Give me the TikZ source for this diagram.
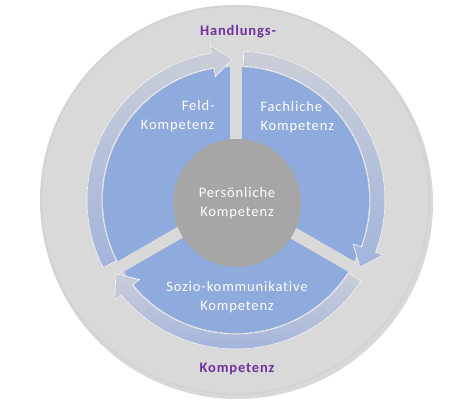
\documentclass[tikz,border=0pt]{standalone}
\usepackage{fontspec}
\setmainfont{Carlito}[LetterSpace=6, Ligatures={NoCommon}]
\definecolor{ringgray}{HTML}{D9D9D9}
\definecolor{sectorblue}{HTML}{8FAADC}
\definecolor{coregray}{HTML}{A6A6A6}
\definecolor{arrowblue}{HTML}{A3B4DC}
\definecolor{arrowgray}{HTML}{CACED8}
\definecolor{titlepurple}{HTML}{7030A0}
\tikzset{
  labeltext/.style={text=white, font=\fontsize{14.5}{18.5}\selectfont},
  titletext/.style={text=titlepurple, font=\bfseries\fontsize{14.5}{18}\selectfont},
}
\begin{document}
\begin{tikzpicture}[x=1pt,y=1pt]
\useasboundingbox (-236,-200) rectangle (239,200);
% outer ring
\fill[gray!60, opacity=0.5] (1,-3) circle[radius=196];
\fill[ringgray] (-1,0) circle[radius=195];
\draw[gray!35, line width=1.5] (-1,0) circle[radius=194];
% blue sectors and gaps
\fill[sectorblue] (0,0) circle[radius=133];
\foreach \g in {90,-30,210}{
  \draw[ringgray, line width=12] (0,0) -- (\g:135);
}
% circular arrows
\foreach \a/\b in {207/91.5, 87/-28.5, 327/211.5}{
  \filldraw[top color=arrowgray, bottom color=arrowblue, draw=white, line width=0.6]
    (\a:149) arc[start angle=\a, end angle=\b+8, radius=149]
    -- (\b+8:157) -- (\b:141) -- (\b+8:125) -- (\b+8:134)
    arc[start angle=\b+8, end angle=\a, radius=134] -- cycle;
}
% core
\node[circle, fill=coregray, minimum size=128, inner sep=0, labeltext, align=center]
  (persoenlich) at (1,-3) {Persönliche\\Kompetenz};
% sector labels
\node[labeltext, anchor=east, align=right] (feld) at (-18,84) {Feld-\\Kompetenz};
\node[labeltext, anchor=west, align=left] (fachlich) at (21,83) {Fachliche\\Kompetenz};
\node[labeltext, align=center] (sozio) at (1,-97) {Sozio-kommunikative\\Kompetenz};
% title
\node[titletext] (handlung) at (2,168) {Handlungs-};
\node[titletext] (kompetenz) at (1,-169) {Kompetenz};
\end{tikzpicture}
\end{document}
